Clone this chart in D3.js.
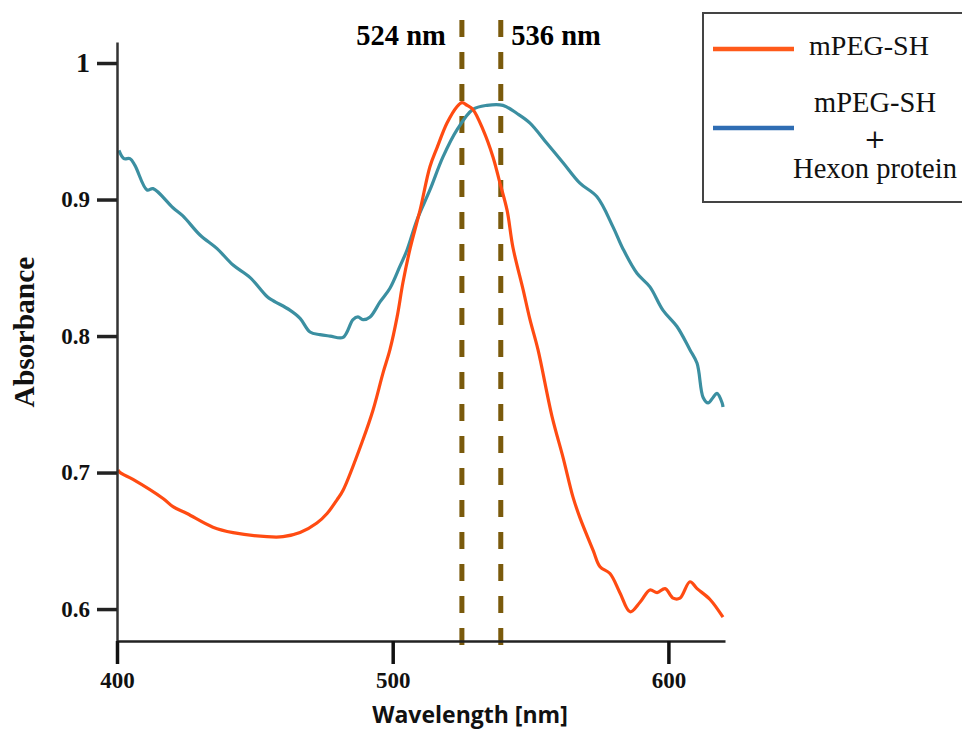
<!DOCTYPE html>
<html>
<head>
<meta charset="utf-8">
<script src="https://cdn.jsdelivr.net/npm/d3@7"></script>
<style>
  html, body { margin: 0; padding: 0; background: #fff; }
  svg { display: block; }
</style>
</head>
<body>
<svg id="chart" width="962" height="731"></svg>
<script>
// ---- Data ----
const wavelengthHexon = [400.7,402.5,404.7,406.5,410.9,413.1,420.3,423.9,430.1,436.3,442.1,448.2,454.4,456.6,462.7,466.4,470.0,473.6,477.3,482.0,485.6,487.4,489.2,491.8,495.4,499.0,502.6,505.2,508.8,513.5,518.2,523.3,529.1,534.2,540.0,545.1,549.8,556.0,561.8,567.9,574.1,579.9,583.5,588.6,593.3,598.0,603.1,607.8,610.4,612.6,614.4,616.2,617.6,619.5,619.8];
const absorbHexon = [0.936,0.930,0.930,0.925,0.907,0.908,0.894,0.888,0.874,0.864,0.852,0.843,0.829,0.826,0.819,0.813,0.803,0.801,0.800,0.799,0.812,0.814,0.812,0.814,0.825,0.835,0.851,0.863,0.885,0.907,0.931,0.951,0.966,0.969,0.969,0.963,0.956,0.941,0.927,0.912,0.902,0.880,0.864,0.846,0.836,0.819,0.807,0.790,0.780,0.755,0.751,0.755,0.758,0.751,0.748];

const wavelengthPeg = [400.4,401.1,405.8,416.7,420.3,425.4,434.8,442.1,454.4,460.2,466.4,472.5,476.2,479.8,482.0,489.2,492.9,496.5,499.0,501.6,503.7,506.3,509.9,513.5,516.1,519.7,523.3,525.1,527.0,529.1,532.8,536.4,538.9,541.5,543.6,547.3,549.8,552.7,557.8,561.8,565.4,567.9,572.7,575.2,578.8,582.4,586.1,589.7,593.3,595.9,598.8,601.7,604.2,607.8,610.4,615.1,619.8];
const absorbPeg = [0.702,0.700,0.695,0.681,0.675,0.670,0.660,0.656,0.653,0.653,0.656,0.663,0.670,0.680,0.687,0.724,0.746,0.773,0.790,0.814,0.839,0.864,0.892,0.924,0.938,0.956,0.968,0.971,0.969,0.966,0.951,0.931,0.912,0.892,0.865,0.834,0.812,0.790,0.741,0.711,0.682,0.667,0.643,0.631,0.626,0.612,0.598,0.605,0.614,0.612,0.615,0.608,0.608,0.620,0.615,0.607,0.594];

const xTicks = [400, 500, 600];
const yTicks = [0.6, 0.7, 0.8, 0.9, 1];
const peakPositions = [525.1, 539.2];
const peakLabels = ["524 nm", "536 nm"];
const legendLabels = [["mPEG-SH"], ["mPEG-SH", "+", "Hexon protein"]];

// ---- Chart ----
const svg = d3.select("#chart");
const serif = "'Liberation Serif', 'Times New Roman', serif";

const x = d3.scaleLinear().domain([400, 620.53]).range([117, 725]);
const y = d3.scaleLinear().domain([0.5766, 1.0154]).range([641, 42]);

// peak dashed lines
svg.append("g").selectAll("line").data(peakPositions).join("line")
  .attr("x1", d => x(d)).attr("x2", d => x(d))
  .attr("y1", 20).attr("y2", 648)
  .attr("stroke", "#7a5a0c").attr("stroke-width", 5)
  .attr("stroke-dasharray", "17,15");

// curves
const line = d3.line().x(d => x(d[0])).y(d => y(d[1])).curve(d3.curveCatmullRom.alpha(0.5));
const hexon = wavelengthHexon.map((w, i) => [w, absorbHexon[i]]);
const peg = wavelengthPeg.map((w, i) => [w, absorbPeg[i]]);

svg.append("path").datum(hexon).attr("d", line)
  .attr("fill", "none").attr("stroke", "#3b8fa1").attr("stroke-width", 3.2)
  .attr("stroke-linejoin", "round");
svg.append("path").datum(peg).attr("d", line)
  .attr("fill", "none").attr("stroke", "#ff4b12").attr("stroke-width", 3.2)
  .attr("stroke-linejoin", "round");

// peak labels
svg.append("text").attr("x", 401).attr("y", 45).attr("text-anchor", "middle")
  .attr("font-family", serif).attr("font-weight", "bold").attr("font-size", 28.5)
  .text(peakLabels[0]);
svg.append("text").attr("x", 556).attr("y", 45).attr("text-anchor", "middle")
  .attr("font-family", serif).attr("font-weight", "bold").attr("font-size", 28.5)
  .text(peakLabels[1]);

// Y axis
const yAxis = d3.axisLeft(y).tickValues(yTicks)
  .tickFormat(d => d === 1 ? "1" : d3.format(".1f")(d))
  .tickSize(20).tickSizeOuter(0).tickPadding(7);
const gy = svg.append("g").attr("transform", "translate(117,0)").call(yAxis);
gy.select(".domain").attr("stroke", "#333").attr("stroke-width", 2.5);
gy.selectAll(".tick line").attr("stroke", "#222").attr("stroke-width", 3.5);
gy.selectAll(".tick text").attr("font-family", serif).attr("font-weight", "bold")
  .attr("font-size", d => d === 1 ? 28 : 23).attr("fill", "#111");

// X axis
const xAxis = d3.axisBottom(x).tickValues(xTicks).tickFormat(d3.format("d"))
  .tickSize(23).tickSizeOuter(0).tickPadding(8);
const gx = svg.append("g").attr("transform", "translate(0,641)").call(xAxis);
gx.select(".domain").attr("stroke", "#222").attr("stroke-width", 2.5);
gx.selectAll(".tick line").attr("stroke", "#111").attr("stroke-width", 3.5);
gx.selectAll(".tick text").attr("font-family", serif).attr("font-weight", "bold")
  .attr("font-size", 23).attr("fill", "#111");

// axis titles
svg.append("text").attr("x", 470).attr("y", 723).attr("text-anchor", "middle")
  .attr("font-family", "'Open Sans', sans-serif").attr("font-weight", "bold")
  .attr("font-size", 23).attr("fill", "#111").text("Wavelength [nm]");
svg.append("text").attr("transform", "translate(34,332) rotate(-90)")
  .attr("text-anchor", "middle").attr("font-family", serif).attr("font-weight", "bold")
  .attr("font-size", 29.5).attr("fill", "#111").text("Absorbance");

// legend
const lg = svg.append("g");
lg.append("rect").attr("x", 703).attr("y", 13).attr("width", 280).attr("height", 189)
  .attr("fill", "#fff").attr("stroke", "#444").attr("stroke-width", 2);
const legendColors = ["#ff5a1a", "#2f6db3"];
const legendY = [49, 128];
lg.selectAll("line.key").data(legendColors).join("line").attr("class", "key")
  .attr("x1", 713).attr("x2", 794)
  .attr("y1", (d, i) => legendY[i]).attr("y2", (d, i) => legendY[i])
  .attr("stroke", d => d).attr("stroke-width", 4.5);
lg.append("text").attr("x", 869).attr("y", 55).attr("text-anchor", "middle")
  .attr("font-family", serif).attr("font-size", 28).attr("fill", "#111")
  .text(legendLabels[0][0]);
const l2y = [112, 148, 178];
lg.selectAll("text.l2").data(legendLabels[1]).join("text").attr("class", "l2")
  .attr("x", 875).attr("y", (d, i) => l2y[i]).attr("text-anchor", "middle")
  .attr("font-family", d => d === "+" ? "'DejaVu Serif', serif" : serif)
  .attr("font-size", d => d === "+" ? 26 : 28.5).attr("fill", "#111")
  .text(d => d);
</script>
</body>
</html>
